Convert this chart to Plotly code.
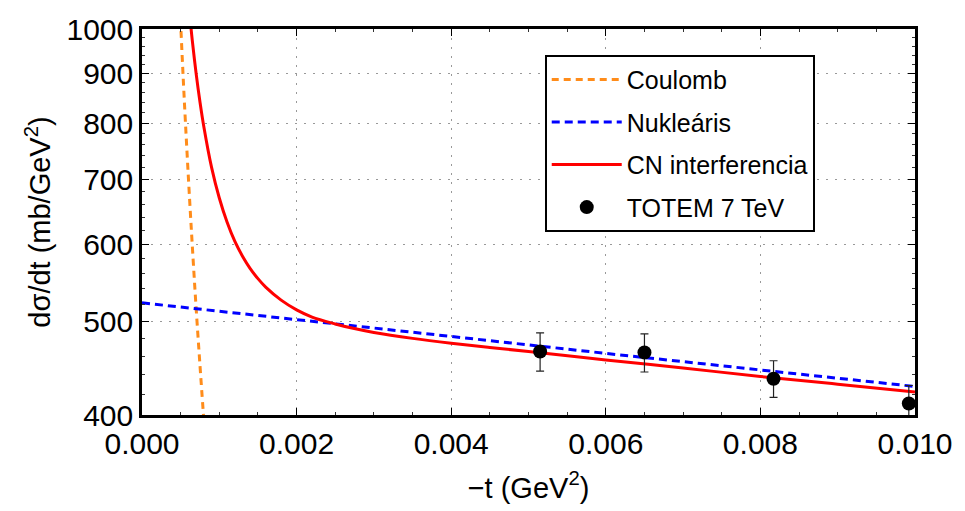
import plotly.graph_objects as go

# Coulomb (orange dashed)
coul_t = [0.00049, 0.00052, 0.00055, 0.00060, 0.00065, 0.00070, 0.00075, 0.00080]
coul_v = [1054, 936, 836, 703, 599, 516, 450, 395]

# Nuclear (blue dashed)
nuc_t = [0.0, 0.002, 0.004, 0.006, 0.008, 0.010]
nuc_v = [522, 502, 482, 463, 445, 428]

# CN interference (red solid)
cn_t = [0.00062, 0.00065, 0.00070, 0.00075, 0.00080, 0.00090, 0.00100, 0.00110,
        0.00120, 0.00130, 0.00140, 0.00150, 0.00160, 0.00180, 0.00200, 0.00220,
        0.00250, 0.00270, 0.00300, 0.00350, 0.00400, 0.00450, 0.00500, 0.00600,
        0.00700, 0.00800, 0.00900, 0.01000]
cn_v = [1028, 974, 900, 841, 793, 720, 669.5, 632.4,
        604.3, 583.2, 566.3, 552.9, 541.9, 525.4, 513.4, 504.7,
        496.5, 492, 486.6, 479.8, 474.3, 469.6, 465.0, 455.9,
        447.2, 438.3, 430.4, 422.4]

# TOTEM 7 TeV data
totem_t = [0.00515, 0.00650, 0.00817, 0.00992]
totem_v = [465, 464, 436, 411]
totem_err = [21, 21, 19, 18]

x_ticks = [0.000, 0.002, 0.004, 0.006, 0.008, 0.010]
y_ticks = [400, 500, 600, 700, 800, 900, 1000]
y_minor = [v for v in range(420, 1000, 20) if v % 100 != 0]

FONT = "Liberation Sans, Arial, sans-serif"

fig = go.Figure()
fig.add_trace(go.Scatter(x=coul_t, y=coul_v, mode="lines", name="Coulomb",
                         line=dict(color="#FF8C1A", width=3, dash="7px,5px", shape="spline"),
                         legendgroup="a"))
fig.add_trace(go.Scatter(x=nuc_t, y=nuc_v, mode="lines", name="Nukleáris",
                         line=dict(color="#0000FF", width=3, dash="8px,5px"),
                         legendgroup="b"))
fig.add_trace(go.Scatter(x=cn_t, y=cn_v, mode="lines", name="CN interferencia",
                         line=dict(color="#FF0000", width=3, shape="spline"),
                         legendgroup="c"))
fig.add_trace(go.Scatter(x=totem_t, y=totem_v, mode="markers", name="TOTEM 7 TeV",
                         marker=dict(color="black", size=14),
                         error_y=dict(type="data", array=totem_err, color="#222222",
                                      thickness=1.2, width=4),
                         legendgroup="d"))

axis_common = dict(
    showline=True, linecolor="black", linewidth=2.5, mirror="allticks",
    ticks="inside", ticklen=7, tickwidth=1.2, tickcolor="black",
    showgrid=True, gridcolor="#999999", griddash="2px,7px", gridwidth=1.2,
    zeroline=False,
    tickfont=dict(family=FONT, size=30, color="black"),
)

fig.update_xaxes(
    range=[0, 0.010], tickmode="array", tickvals=x_ticks, tickformat=".3f",
    minor=dict(ticks="inside", ticklen=3.5, tickwidth=1, tickcolor="#333333",
               dtick=0.0005, tick0=0, showgrid=False),
    title=dict(text="\u2212t (GeV<sup>2</sup>)", font=dict(family=FONT, size=29, color="black"),
               standoff=19),
    **axis_common,
)
fig.update_yaxes(
    type="log", range=[2.60206, 3.0], tickmode="array", tickvals=y_ticks,
    ticktext=[str(v) for v in y_ticks],
    minor=dict(ticks="inside", ticklen=3.5, tickwidth=1, tickcolor="#333333",
               tickmode="array", tickvals=y_minor, showgrid=False),
    title=dict(text="d\u03c3/dt (mb/GeV<sup>2</sup>)", font=dict(family=FONT, size=29, color="black"),
               standoff=8),
    ticklabelstandoff=0,
    **axis_common,
)

fig.update_layout(
    width=965, height=511,
    margin=dict(l=142, r=44, t=26, b=95),
    plot_bgcolor="white", paper_bgcolor="white",
    font=dict(family=FONT, color="black"),
    legend=dict(
        x=0.521, y=0.933, xanchor="left", yanchor="top",
        bgcolor="white", bordercolor="black", borderwidth=2,
        font=dict(family=FONT, size=25, color="black"),
        tracegroupgap=7, itemwidth=70,
    ),
    showlegend=True,
)

fig.write_html("out.html")
